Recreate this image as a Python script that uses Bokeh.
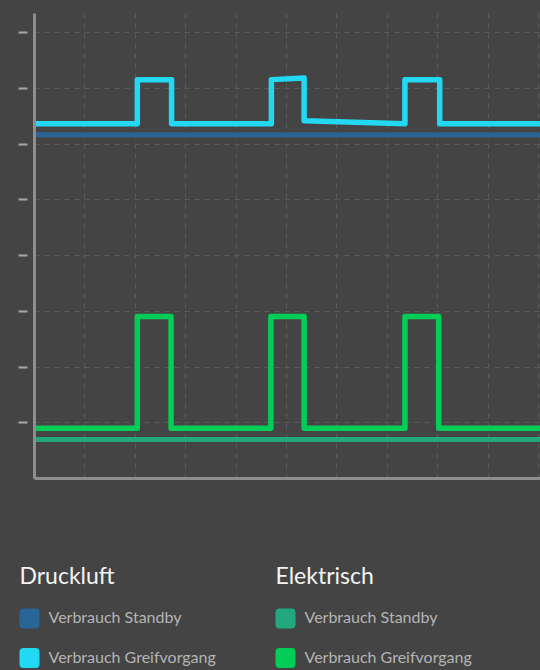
from bokeh.plotting import figure
from bokeh.models import Range1d, FixedTicker, GlobalInlineStyleSheet
from bokeh.layouts import column
from bokeh.core.properties import value
from bokeh.embed import file_html
from bokeh.resources import INLINE

# ---------------- data ----------------
x_ticks = [0, 1, 2, 3, 4, 5, 6, 7, 8, 9, 10]
y_ticks = [1, 2, 3, 4, 5, 6, 7, 8]

# Druckluft
druck_standby_x = [0.0, 10.1]
druck_standby_y = [6.17, 6.17]
druck_greif_x = [0.0, 2.04, 2.04, 2.72, 2.72, 4.70, 4.70, 5.35, 5.35, 7.35, 7.35, 8.04, 8.04, 10.1]
druck_greif_y = [6.37, 6.37, 7.16, 7.16, 6.37, 6.37, 7.16, 7.19, 6.42, 6.37, 7.16, 7.16, 6.37, 6.37]

# Elektrisch
elek_standby_x = [0.0, 10.1]
elek_standby_y = [0.70, 0.70]
elek_greif_x = [0.0, 2.04, 2.04, 2.71, 2.71, 4.69, 4.69, 5.35, 5.35, 7.35, 7.35, 8.02, 8.02, 10.1]
elek_greif_y = [0.90, 0.90, 2.91, 2.91, 0.90, 0.90, 2.91, 2.91, 0.90, 0.90, 2.91, 2.91, 0.90, 0.90]

legend_groups = ["Druckluft", "Elektrisch"]
legend_items = ["Verbrauch Standby", "Verbrauch Greifvorgang"]

# ---------------- styles ----------------
BG = "#444444"
C_DRUCK_STANDBY = "#2a6597"
C_DRUCK_GREIF = "#22d8f2"
C_ELEK_STANDBY = "#22a87f"
C_ELEK_GREIF = "#02cd56"
group_colors = {
    "Druckluft": [C_DRUCK_STANDBY, C_DRUCK_GREIF],
    "Elektrisch": [C_ELEK_STANDBY, C_ELEK_GREIF],
}
FONT = value("Lato")

# ---------------- chart ----------------
p = figure(width=540, height=500,
           x_range=Range1d(0, 10.04), y_range=Range1d(0, 8.347),
           toolbar_location=None, output_backend="svg",
           min_border_left=34, min_border_right=0,
           min_border_top=13, min_border_bottom=22,
           background_fill_color=BG, border_fill_color=BG,
           outline_line_color=None, frame_align=False)

p.xaxis.ticker = FixedTicker(ticks=x_ticks)
p.yaxis.ticker = FixedTicker(ticks=y_ticks)
p.xaxis.major_label_overrides = {t: "" for t in x_ticks}
p.yaxis.major_label_overrides = {t: "" for t in y_ticks}
p.axis.major_label_standoff = 0
p.axis.minor_tick_line_color = None
p.axis.axis_line_color = "#8e8e8e"
p.axis.axis_line_width = 3
p.xaxis.major_tick_line_color = None
p.yaxis.major_tick_in = -7
p.yaxis.major_tick_out = 16
p.yaxis.major_tick_line_color = "#a8a8a8"
p.yaxis.major_tick_line_width = 2

p.grid.grid_line_color = "#5a5a5a"
p.grid.grid_line_width = 1
p.grid.grid_line_dash = "5 5"

p.line(druck_standby_x, druck_standby_y, line_color=C_DRUCK_STANDBY, line_width=5)
p.line(elek_standby_x, elek_standby_y, line_color=C_ELEK_STANDBY, line_width=5)
p.line(druck_greif_x, druck_greif_y, line_color=C_DRUCK_GREIF, line_width=5.5,
       line_join="round", line_cap="round")
p.line(elek_greif_x, elek_greif_y, line_color=C_ELEK_GREIF, line_width=5.5,
       line_join="round", line_cap="round")

# ---------------- legend panel ----------------
leg = figure(width=540, height=170,
             x_range=Range1d(0, 540), y_range=Range1d(670, 500),
             x_axis_type=None, y_axis_type=None,
             toolbar_location=None, output_backend="svg",
             min_border=0, min_border_left=0, min_border_right=0,
             min_border_top=0, min_border_bottom=0,
             background_fill_color=BG, border_fill_color=BG,
             outline_line_color=None, frame_align=False)

col_x = [19, 275]
title_y = 574
row_y = [618, 657.5]
text_y = [616, 655.5]
for gi, group in enumerate(legend_groups):
    leg.text(x=[col_x[gi]], y=[title_y], text=[group], text_font=FONT,
             text_font_size="23px", text_color="#f4f4f4",
             text_baseline="middle", text_align="left")
    for ri, item in enumerate(legend_items):
        c = group_colors[group][ri]
        leg.quad(left=[col_x[gi]], right=[col_x[gi] + 20],
                 top=[row_y[ri] - 10], bottom=[row_y[ri] + 10],
                 fill_color=c, line_color=None, border_radius=4)
        leg.text(x=[col_x[gi] + 29], y=[text_y[ri]], text=[item], text_font=FONT,
                 text_font_size="16px", text_color="#b4b4b4",
                 text_baseline="middle", text_align="left")

css = GlobalInlineStyleSheet(css="html, body { margin: 0; padding: 0; background: #444444; overflow: hidden; }")
layout = column(p, leg, spacing=0, stylesheets=[css])

open("out.html", "w").write(file_html(layout, INLINE))
